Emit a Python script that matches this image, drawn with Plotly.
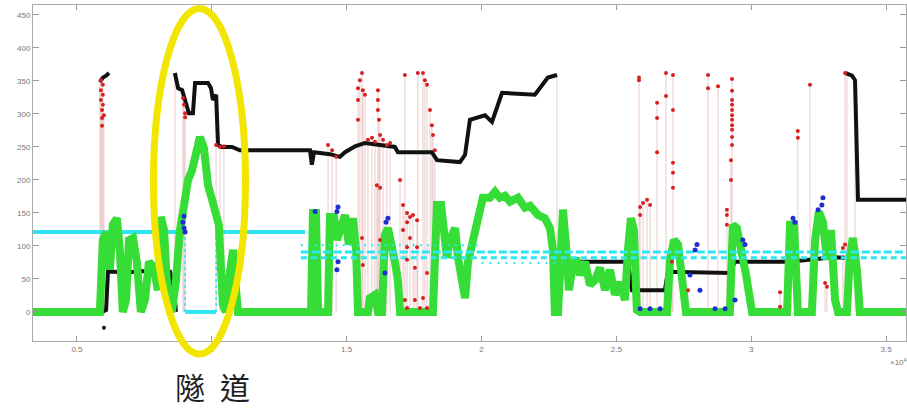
import plotly.graph_objects as go

# ---------------- data (x in units of 1e4) ----------------
green_x = [0.337, 0.585, 0.596, 0.608, 0.622, 0.633, 0.648, 0.659, 0.670, 0.682,
           0.693, 0.708, 0.722, 0.737, 0.752, 0.767, 0.785, 0.800, 0.811, 0.823,
           0.837, 0.852, 0.867, 0.882, 0.897, 0.912, 0.927, 0.941, 0.956, 0.971,
           0.986, 1.001, 1.012, 1.026, 1.041, 1.052, 1.063, 1.079, 1.090, 1.097, 1.364,
           1.368, 1.375, 1.386, 1.394, 1.431, 1.438, 1.453, 1.464, 1.479, 1.494,
           1.508, 1.523, 1.535, 1.542, 1.579, 1.586, 1.605, 1.616, 1.631, 1.642,
           1.653, 1.668, 1.679, 1.690, 1.698, 1.820, 1.835, 1.850, 1.861, 1.872,
           1.883, 1.902, 1.913, 1.928, 1.939, 1.950, 1.965, 1.980, 1.994, 2.005,
           2.031, 2.050, 2.068, 2.087, 2.106, 2.135, 2.161, 2.180, 2.209, 2.235,
           2.254, 2.265, 2.272, 2.284, 2.295, 2.302, 2.313, 2.324, 2.335, 2.350,
           2.365, 2.384, 2.402, 2.421, 2.439,
           2.458, 2.476, 2.495, 2.513, 2.532, 2.543, 2.554, 2.565, 2.576, 2.588,
           2.688, 2.699, 2.714, 2.729, 2.744, 2.758, 2.921, 2.932, 2.947, 2.962,
           2.981, 3.003, 3.133, 3.144, 3.159, 3.173, 3.225, 3.237, 3.251, 3.266,
           3.281, 3.296, 3.311, 3.322, 3.355, 3.366, 3.377, 3.392, 3.403, 3.578]
green_y = [0, 0, 109, 121, 64, 132, 142, 94, 0, 18,
           109, 112, 76, 0, 18, 76, 67, 33, 144, 124,
           18, 0, 48, 124, 162, 200, 215, 245, 265, 248,
           192, 170, 150, 132, 11, 0, 48, 94, 33, 0, 0,
           0, 150, 150, 0, 0, 144, 144, 109, 127, 147,
           102, 142, 94, 0, 0, 21, 26, 0, 0, 117,
           127, 102, 76, 48, 0, 0, 162, 162, 132, 82,
           109, 127, 82, 36, 21, 76, 102, 117, 147, 173,
           173, 182, 173, 176, 167, 173, 158, 161, 147, 142,
           127, 94, 0, 0, 94, 155, 102, 33, 61, 82,
           56, 76, 41, 48, 67,
           33, 64, 26, 45, 18, 94, 142, 124, 3, 0,
           0, 79, 109, 102, 48, 0, 0, 132, 127, 97,
           56, 0, 0, 132, 132, 0, 0, 109, 152, 136,
           79, 124, 18, 0, 0, 86, 112, 64, 0, 0]

black_x = [0.585, 0.596, 0.608, 0.619, None,
           0.593, 0.608, 0.615, 0.641, 0.678, 0.734, 0.789, 0.845, 0.860, 0.867, None,
           0.863, 0.875, 0.890, 0.905, 0.915, 0.930, 0.938, 0.986, 0.997, 1.004,
           1.016, 1.023, 1.037, 1.075, 1.104, 1.364, 1.371, 1.379, 1.438, 1.475,
           1.494, 1.531, 1.568, 1.624, 1.679, 1.690, 1.816, 1.835, 1.920, 1.939,
           1.957, 2.013, 2.039, 2.076, 2.198, 2.246, 2.280, None,
           2.284, 2.298, 2.439, 2.543, 2.558, 2.680, 2.691, 2.829, 2.921, 2.940,
           3.144, 3.303, 3.348, None,
           3.348, 3.374, 3.385, 3.396, 3.578]
black_y = [348, 355, 358, 362, None,
           0, 3, 61, 61, 59, 62, 61, 61, 33, 0, None,
           362, 339, 336, 317, 301, 301, 347, 347, 339, 321,
           329, 253, 250, 250, 245, 245, 223, 242, 239, 235,
           242, 251, 256, 253, 250, 242, 242, 230, 227, 238,
           291, 298, 288, 332, 329, 355, 359, None,
           0, 76, 76, 76, 33, 33, 61, 59, 59, 76,
           76, 83, 82, None,
           362, 358, 351, 170, 170]
black_dot_x = [0.600]
black_dot_y = [-24]

red_x = [0.589, 0.589, 0.589, 0.593, 0.593, 0.593, 0.596, 0.596, 0.596, 0.600,
         0.893, 0.897, 0.901, 0.901, 1.016, 1.030, 1.045,
         1.431, 1.446, 1.461,
         1.542, 1.542, 1.542, 1.549, 1.557, 1.560, 1.568, 1.616, 1.616, 1.616,
         1.620, 1.624, 1.579, 1.594, 1.605, 1.635, 1.649, 1.661, 1.716, 1.764,
         1.783, 1.790, 1.798, 1.809, 1.816, 1.820, 1.827,
         1.612, 1.624, 1.557, 1.560, 1.624, 1.698, 1.709, 1.724, 1.735, 1.746,
         1.724, 1.761, 1.709, 1.735, 1.724, 1.761, 1.724, 1.753, 1.798, 1.716,
         1.753, 1.783, 1.724, 1.772, 1.798,
         2.584, 2.584, 2.651, 2.651, 2.651, 2.684, 2.684, 2.710, 2.710, 2.710,
         2.710, 2.710, 2.840, 2.840, 2.877, 2.929, 2.929, 2.929, 2.929, 2.929,
         2.929, 2.929, 2.929, 2.929, 2.929, 2.929, 2.925, 2.925, 3.173, 3.173,
         3.218, 3.348,
         2.588, 2.599, 2.614, 2.625, 2.588, 2.910, 2.910, 2.910, 2.766, 3.107,
         3.107, 3.281, 3.274, 3.348, 3.340, 2.706]
red_y = [351, 336, 321, 306, 294, 282, 344, 329, 314, 298,
         324, 314, 301, 295, 253, 250, 251,
         253, 245, 235,
         339, 321, 291, 351, 362, 336, 329, 336, 321, 306,
         291, 268, 261, 264, 258, 261, 253, 256, 359, 362,
         362, 351, 344, 306, 283, 268, 245,
         192, 188, 112, 71, 109, 200, 162, 150, 144, 147,
         136, 139, 124, 112, 98, 98, 79, 67, 59, 18,
         18, 21, 6, 6, 6,
         355, 351, 317, 294, 242, 362, 327, 359, 306, 226,
         211, 188, 359, 339, 342, 353, 335, 321, 314, 306,
         298, 291, 283, 276, 265, 253, 230, 200, 274, 264,
         344, 362,
         159, 165, 170, 162, 147, 155, 147, 132, 33, 8,
         30, 38, 44, 102, 97, 76]

jump_x = [0.585, 0.863, 2.280, 3.355, 3.385]
jump_top = [355, 362, 359, 358, 351]

blue_x = [0.893, 0.897, 0.901, 0.897, 1.383, 1.468, 1.464, 1.468, 1.464, 1.653,
          1.646, 1.642, 2.799, 2.792, 2.969, 2.977, 3.155, 3.162, 3.266, 3.262,
          3.248, 2.588, 2.625, 2.662, 2.866, 2.903, 2.940, 2.810, 2.773]
blue_y = [136, 127, 121, 145, 152, 159, 152, 76, 64, 142,
          136, 59, 102, 94, 109, 102, 142, 136, 173, 162,
          155, 5, 5, 5, 5, 5, 18, 33, 56]

cyan_x = [0.337, 0.901, None, 0.901, 1.016, None, 1.016, 1.346]
cyan_y = [121, 121, None, 0, 0, None, 121, 121]
cyan_vert_x = [0.901, 0.901, None, 1.016, 1.016]
cyan_vert_y = [0, 121, None, 0, 121]

cyan_band_level = [91, 82, 101, 74]
cyan_band_start = [1.33, 1.33, 1.33, 2.00]
cyan_band_end = [3.578, 3.578, 2.00, 2.30]

x_tickvals = [0.5, 1, 1.5, 2, 2.5, 3, 3.5]
x_ticktext = ["0.5", "1", "1.5", "2", "2.5", "3", "3.5"]
y_tickvals = [0, 50, 100, 150, 200, 250, 300, 350, 400, 450]

# ---------------- figure ----------------
fig = go.Figure()

# faint stems (red samples & jumps)
tops = {}
for x, y in list(zip(red_x, red_y)) + list(zip(jump_x, jump_top)):
    tops[x] = max(tops.get(x, -1e9), y)
stem_x, stem_y = [], []
for x, t in tops.items():
    stem_x += [x, x, None]
    stem_y += [0, t, None]
fig.add_trace(go.Scatter(x=stem_x, y=stem_y, mode="lines",
                         line=dict(color="rgba(205,130,130,0.35)", width=1.2),
                         hoverinfo="skip", showlegend=False))

# cyan reference (left)
fig.add_trace(go.Scatter(x=cyan_x, y=cyan_y, mode="lines",
                         line=dict(color="#2ee6f2", width=4), showlegend=False))
fig.add_trace(go.Scatter(x=cyan_vert_x, y=cyan_vert_y, mode="lines",
                         line=dict(color="#2ee6f2", width=1.5, dash="dot"), showlegend=False))

# black
fig.add_trace(go.Scatter(x=black_x, y=black_y, mode="lines",
                         line=dict(color="#111111", width=4), showlegend=False))
fig.add_trace(go.Scatter(x=black_dot_x, y=black_dot_y, mode="markers",
                         marker=dict(color="#111111", size=4), showlegend=False))

# green
fig.add_trace(go.Scatter(x=green_x, y=green_y, mode="lines",
                         line=dict(color="#36dd36", width=8), showlegend=False))

# cyan bands
dashes = ["8px,3px", "6px,4px", "2px,5px", "2px,6px"]
widths = [3, 3, 2, 2]
for lv, s, e, d, w in zip(cyan_band_level, cyan_band_start, cyan_band_end, dashes, widths):
    fig.add_trace(go.Scatter(x=[s, e], y=[lv, lv], mode="lines",
                             line=dict(color="#2ee6f2", width=w, dash=d), showlegend=False))

# red and blue samples
fig.add_trace(go.Scatter(x=red_x, y=red_y, mode="markers",
                         marker=dict(color="#d92020", size=4), showlegend=False))
fig.add_trace(go.Scatter(x=blue_x, y=blue_y, mode="markers",
                         marker=dict(color="#1f2fd0", size=5), showlegend=False))

axis_common = dict(showgrid=False, zeroline=False, showline=True, linecolor="#a8a8a8",
                   linewidth=1, mirror="ticks", ticks="inside", tickcolor="#999999",
                   tickfont=dict(family="Liberation Sans", size=8, color="#777777"))

fig.update_layout(
    width=907, height=408, autosize=False,
    margin=dict(l=33, r=1, t=5, b=67),
    plot_bgcolor="white", paper_bgcolor="white",
    xaxis=dict(range=[0.337, 3.574], tickvals=x_tickvals, ticktext=x_ticktext,
               ticklen=5, **axis_common),
    yaxis=dict(range=[-44, 465], tickvals=y_tickvals, ticklen=6, **axis_common),
    shapes=[dict(type="circle", xref="paper", yref="paper",
                 x0=0.138, x1=0.2434, y0=-0.0387, y1=0.9896,
                 line=dict(color="#f2e600", width=7), layer="above")],
    annotations=[
        dict(text="隧\u2002道", xref="paper", yref="paper", x=0.206, y=-0.134,
             showarrow=False, xanchor="center", yanchor="middle",
             font=dict(family="Noto Sans CJK TC", size=30, color="#1e1e1e")),
        dict(text="×10<sup>4</sup>", xref="paper", yref="paper", x=0.979, y=-0.0625,
             showarrow=False, xanchor="left", yanchor="middle",
             font=dict(family="Liberation Sans", size=8, color="#777777")),
    ],
)

fig.write_html("out.html", config={"displayModeBar": False},
               post_script="document.body.style.margin='0';document.body.style.overflow='hidden';")
